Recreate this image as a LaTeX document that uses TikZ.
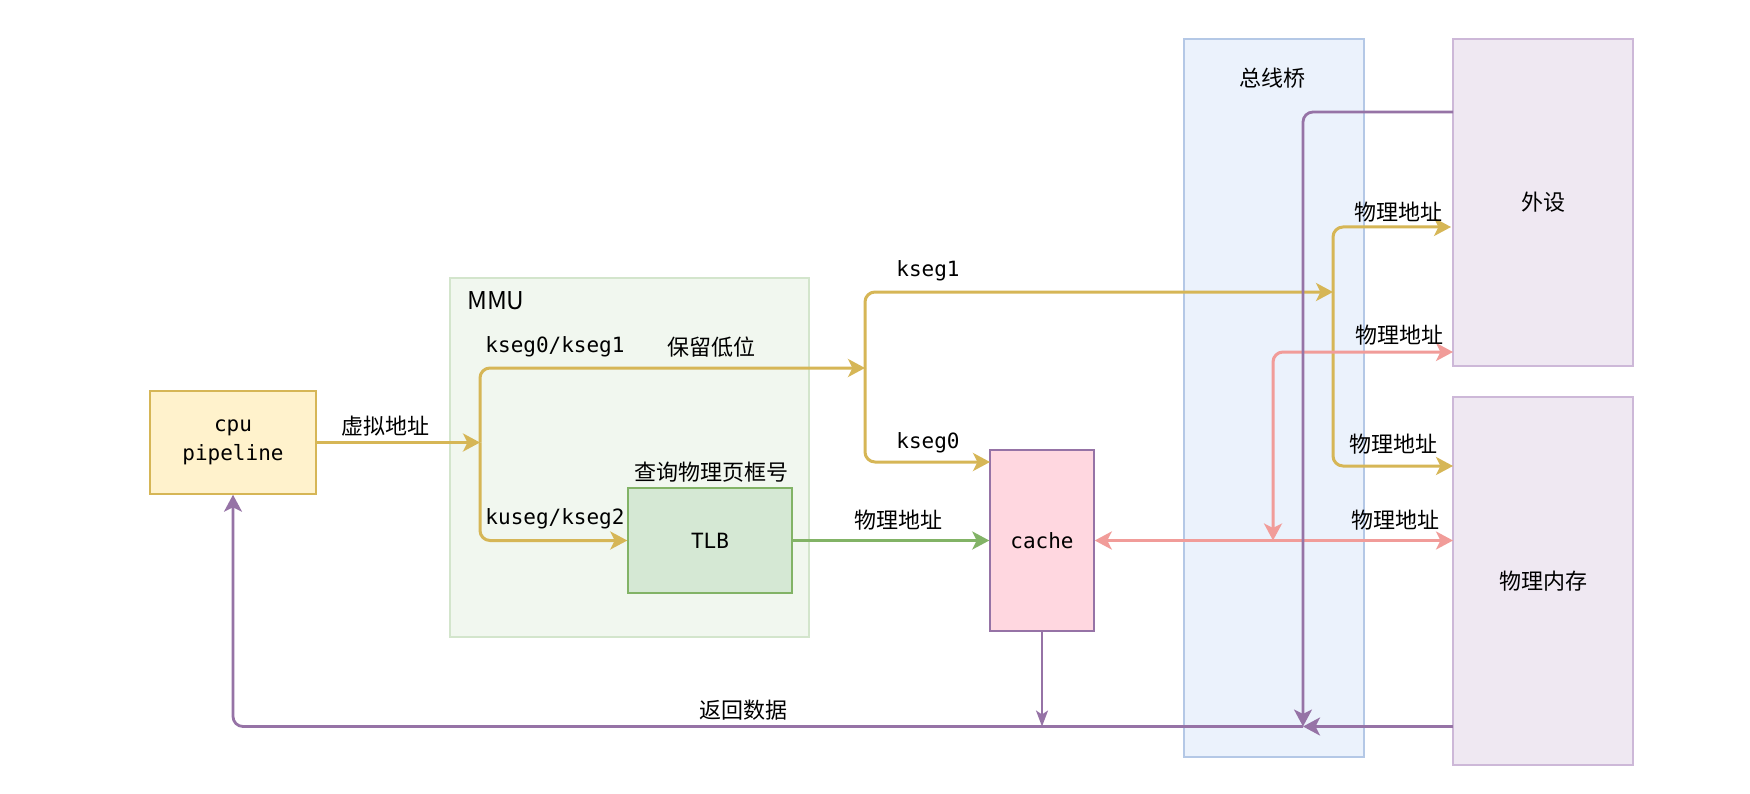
\documentclass[tikz,border=0pt]{standalone}
\usepackage{fontspec}
\newfontfamily\cjk{Noto Sans CJK SC}
\newfontfamily\mono{DejaVu Sans Mono}
\usetikzlibrary{arrows.meta}
\definecolor{yel}{HTML}{D6B656}
\definecolor{grn}{HTML}{82B366}
\definecolor{pnk}{HTML}{F19C99}
\definecolor{pur}{HTML}{9673A6}
\definecolor{cpufill}{HTML}{FFF2CC}
\definecolor{tlbfill}{HTML}{D5E8D4}
\definecolor{mmufill}{HTML}{F1F7EF}
\definecolor{mmudraw}{HTML}{D3E5CC}
\definecolor{cachefill}{HTML}{FFD7E0}
\definecolor{busfill}{HTML}{EBF2FC}
\definecolor{busdraw}{HTML}{B4C8E6}
\definecolor{devfill}{HTML}{EFE8F2}
\definecolor{devdraw}{HTML}{CDB8D8}
\tikzset{
  cj/.style={font=\cjk\fontsize{22}{26}\selectfont, inner sep=0pt},
  mo/.style={font=\mono\fontsize{21}{29}\selectfont, inner sep=0pt},
  box/.style={rectangle, inner sep=0pt, line width=1.5pt},
  tip/.style={-{Stealth[length=17pt,width=18pt,inset=4.5pt]}},
  tiptwo/.style={{Stealth[length=17pt,width=18pt,inset=4.5pt]}-{Stealth[length=17pt,width=18pt,inset=4.5pt]}},
  yl/.style={draw=yel, line width=3pt, rounded corners=10pt, tip},
  gl/.style={draw=grn, line width=3pt, tip},
  pl/.style={draw=pnk, line width=3pt, rounded corners=10pt, tiptwo},
  ul/.style={draw=pur, line width=2.8pt, rounded corners=10pt, tip},
  ulthin/.style={draw=pur, line width=2pt, -{Stealth[length=16pt,width=12pt,inset=4pt]}},
}
\begin{document}
\begin{tikzpicture}[x=1pt, y=-1pt]
\path[use as bounding box, fill=white] (0,0) rectangle (1750,794);

% containers and boxes
\node[box, draw=mmudraw, fill=mmufill, minimum width=359pt, minimum height=359pt] (mmu) at (629.5,457.5) {};
\node[anchor=west, font=\cjk\fontsize{24.5}{30}\selectfont, inner sep=0pt] (mmulabel) at (467,301) {MMU};
\node[box, draw=busdraw, fill=busfill, minimum width=180pt, minimum height=718pt] (bus) at (1274,398) {};
\node[cj] (buslabel) at (1272,78) {总线桥};
\node[box, draw=devdraw, fill=devfill, minimum width=180pt, minimum height=327pt, cj] (dev) at (1543,202.5) {外设};
\node[box, draw=devdraw, fill=devfill, minimum width=180pt, minimum height=368pt, cj] (mem) at (1543,581) {物理内存};
\node[box, draw=yel, fill=cpufill, minimum width=166pt, minimum height=103pt, mo, align=center] (cpu) at (233,442.5) {cpu\\pipeline};
\node[box, draw=grn, fill=tlbfill, minimum width=164pt, minimum height=105pt, mo] (tlb) at (710,540.5) {TLB};
\node[box, draw=pur, fill=cachefill, minimum width=104pt, minimum height=181pt, mo] (cache) at (1042,540.5) {cache};

% junction points
\coordinate (s1) at (480,442.5);
\coordinate (s2) at (865,368);
\coordinate (s3) at (1333,292);
\coordinate (k0) at (990,462);
\coordinate (d1) at (1451,227);
\coordinate (m1) at (1453,466);
\coordinate (m2) at (1453,540.5);
\coordinate (j1) at (1273,540.5);
\coordinate (d2) at (1453,352);
\coordinate (d3) at (1453,112);
\coordinate (j2) at (1303,726.5);
\coordinate (m3) at (1453,726.5);

% yellow address paths
\draw[yl] (cpu.east) -- (s1);
\draw[yl] (s1) |- (s2);
\draw[yl] (s1) |- (tlb.west);
\draw[yl] (s2) |- (s3);
\draw[yl] (s2) |- (k0);
\draw[yl] (s3) |- (d1);
\draw[yl] (s3) |- (m1);

% green
\draw[gl] (tlb.east) -- (cache.west);

% pink
\draw[pl] (cache.east) -- (m2);
\draw[pl] (j1) |- (d2);

% purple return data
\draw[ul] (d3) -| (j2);
\draw[ul] (m3) -- (j2);
\draw[ul] (j2) -| (cpu.south);
\draw[ulthin] (cache.south) -- (cache.south |- j2);

% labels
\node[cj] (l1) at (385,426) {虚拟地址};
\node[mo] (l2) at (555,347) {kseg0/kseg1};
\node[cj] (l3) at (711,347) {保留低位};
\node[mo] (l4) at (555,519) {kuseg/kseg2};
\node[cj] (l5) at (711,472) {查询物理页框号};
\node[mo] (l6) at (928,271) {kseg1};
\node[mo] (l7) at (928,443) {kseg0};
\node[cj] (l8) at (898,520) {物理地址};
\node[cj] (l9) at (1398,212) {物理地址};
\node[cj] (l10) at (1399,335) {物理地址};
\node[cj] (l11) at (1393,444) {物理地址};
\node[cj] (l12) at (1395,520) {物理地址};
\node[cj] (l13) at (743,710) {返回数据};
\end{tikzpicture}
\end{document}
